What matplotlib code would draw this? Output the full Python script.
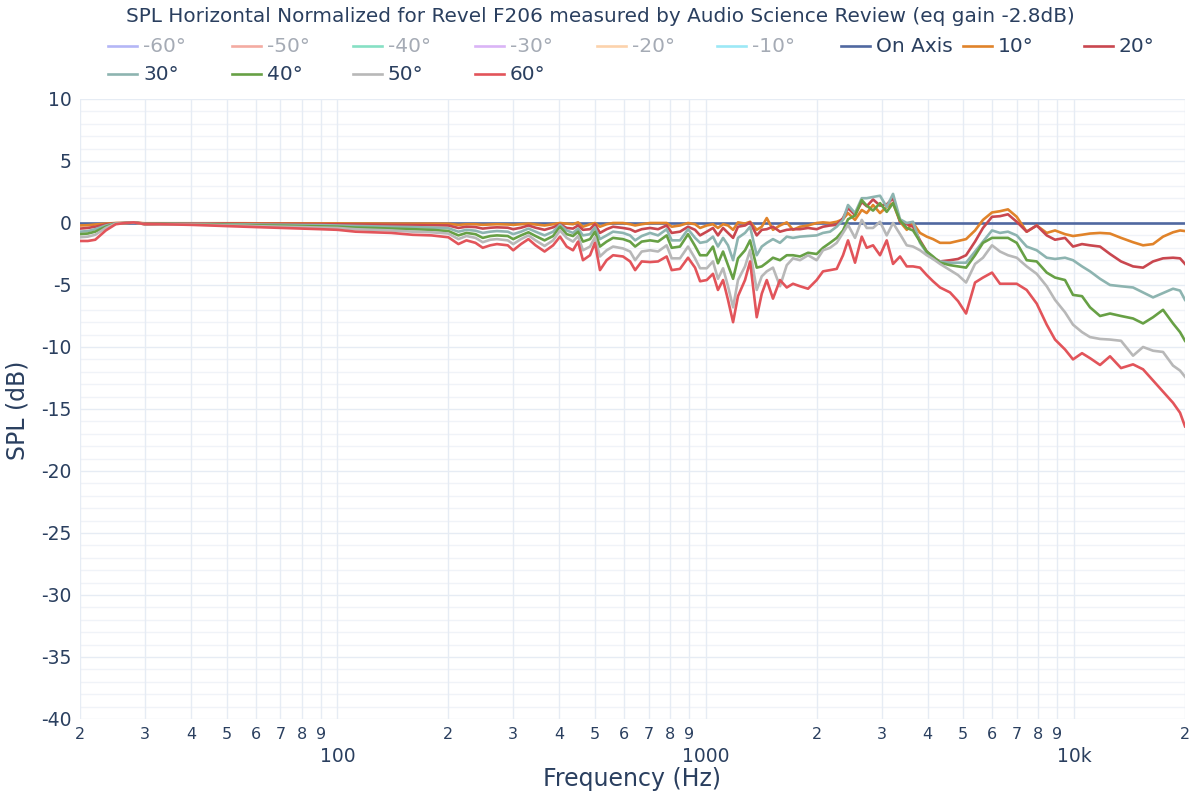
import matplotlib
matplotlib.use("Agg")
import matplotlib.pyplot as plt
from matplotlib.lines import Line2D
from matplotlib.ticker import FixedLocator, FixedFormatter

plt.rcParams['font.family'] = ['DejaVu Sans']
plt.rcParams['axes.unicode_minus'] = False

title = "SPL Horizontal Normalized for Revel F206 measured by Audio Science Review (eq gain -2.8dB)"

freq = [20, 21, 22, 23.5, 25, 26.5, 28, 30, 33, 36, 40, 45, 50, 56, 63, 71, 80, 90, 100, 112,
        125, 140, 160, 180, 200, 213, 224, 237, 248, 260, 271, 290, 300, 315, 330, 345, 365, 385,
        402, 419, 436, 450, 464, 485, 500, 516, 538, 560, 596, 623, 643, 670, 706, 742, 783, 808,
        851, 895, 935, 965, 1006, 1046, 1079, 1114, 1149, 1186, 1223, 1278, 1319, 1375, 1419, 1464,
        1522, 1590, 1659, 1725, 1802, 1895, 2000, 2081, 2174, 2267, 2358, 2433, 2542, 2651, 2735,
        2845, 2972, 3099, 3224, 3368, 3512, 3653, 3816, 3980, 4140, 4325, 4604, 4840, 5089, 5383,
        5657, 5985, 6291, 6613, 6985, 7433, 7915, 8426, 8875, 9447, 9931, 10506, 11045, 11758,
        12516, 13409, 14454, 15386, 16378, 17433, 18558, 19388, 20000]

on_axis = [0.0] * len(freq)

deg10 = [-0.2, -0.18, -0.12, -0.05, 0.0, 0.0, 0.03, -0.02, -0.02, -0.02, -0.02, -0.02, -0.02, -0.02, -0.03, -0.03, -0.03, -0.03, -0.03, -0.04,
         -0.04, -0.05, -0.05, -0.05, -0.06, -0.15, -0.1, -0.1, -0.15, -0.12, -0.1, -0.12, -0.15, -0.1, -0.05, -0.12, -0.2, -0.1,
         0.0, -0.05, -0.1, 0.05, -0.3, -0.1, 0.0, -0.3, -0.1, 0.0,
         0.0, -0.1, -0.2, -0.1, 0.0, 0.0, 0.0, -0.3, -0.2, 0.0,
         -0.1, -0.4, -0.2, -0.1, -0.4, -0.1, -0.2, -0.55, 0.05, -0.05,
         0.1, -0.55, -0.3, 0.4, -0.55, -0.2, 0.05, -0.55, -0.3, -0.2,
         0.0, 0.05, 0.0, 0.1, 0.3, 0.8, 0.25, 1.05, 0.8, 1.45,
         0.8, 1.3, 1.6, 0.1, -0.55, 0.0, -0.8, -1.1, -1.3, -1.6,
         -1.6, -1.45, -1.3, -0.6, 0.25, 0.85, 0.95, 1.1, 0.5, -0.7,
         -0.2, -0.8, -0.6, -0.9, -1.05, -0.95, -0.85, -0.8, -0.85, -1.2,
         -1.55, -1.8, -1.7, -1.1, -0.75, -0.6, -0.65]

deg20 = [-0.45, -0.4, -0.3, -0.12, -0.02, 0.0, 0.05, -0.05, -0.04, -0.04, -0.04, -0.05, -0.05, -0.06, -0.07, -0.07, -0.08, -0.09, -0.1, -0.12,
         -0.13, -0.15, -0.16, -0.18, -0.2, -0.4, -0.3, -0.33, -0.45, -0.38, -0.35, -0.38, -0.5, -0.38, -0.2, -0.38, -0.55, -0.35,
         -0.1, -0.4, -0.45, -0.2, -0.55, -0.5, -0.1, -0.8, -0.5, -0.3,
         -0.4, -0.5, -0.7, -0.5, -0.4, -0.5, -0.2, -0.8, -0.7, -0.3,
         -0.55, -1.0, -0.7, -0.4, -1.0, -0.4, -0.8, -1.2, -0.3, -0.2,
         0.05, -1.0, -0.55, -0.5, -0.3, -0.7, -0.55, -0.5, -0.5, -0.4,
         -0.5, -0.3, -0.2, -0.15, 0.4, 1.2, 0.65, 1.7, 1.35, 1.9,
         1.4, 1.5, 2.0, 0.1, -0.1, -0.3, -1.4, -2.3, -2.8, -3.1,
         -3.0, -2.9, -2.6, -1.5, -0.4, 0.5, 0.55, 0.7, 0.1, -0.7,
         -0.2, -1.0, -1.35, -1.2, -1.9, -1.7, -1.8, -1.9, -2.5, -3.1,
         -3.5, -3.6, -3.1, -2.85, -2.8, -2.85, -3.3]

deg30 = [-0.7, -0.65, -0.5, -0.2, -0.03, 0.0, 0.05, -0.08, -0.07, -0.06, -0.07, -0.08, -0.1, -0.11, -0.13, -0.14, -0.16, -0.17, -0.2, -0.24,
         -0.27, -0.3, -0.33, -0.37, -0.42, -0.7, -0.55, -0.62, -0.8, -0.7, -0.65, -0.7, -0.9, -0.7, -0.45, -0.7, -1.0, -0.7,
         -0.15, -0.6, -0.8, -0.45, -1.0, -0.9, -0.35, -1.3, -1.0, -0.7,
         -0.8, -1.0, -1.4, -1.05, -0.8, -1.0, -0.5, -1.4, -1.4, -0.5,
         -1.2, -1.6, -1.5, -1.1, -1.9, -1.2, -1.8, -3.0, -1.2, -0.8,
         -0.3, -2.6, -1.9, -1.6, -1.3, -1.6, -1.1, -1.2, -1.1, -1.05,
         -1.0, -0.8, -0.7, -0.3, 0.25, 1.45, 0.8, 2.0, 2.0, 2.1,
         2.2, 1.3, 2.35, 0.3, 0.0, 0.1, -1.6, -2.4, -2.9, -3.1,
         -3.2, -3.2, -3.2, -2.3, -1.5, -0.6, -0.8, -0.7, -1.0, -1.9,
         -2.2, -2.8, -2.9, -2.8, -3.0, -3.5, -3.9, -4.5, -5.0, -5.1,
         -5.2, -5.6, -6.0, -5.65, -5.3, -5.45, -6.2]

deg40 = [-0.9, -0.85, -0.7, -0.3, -0.05, 0.0, 0.05, -0.1, -0.08, -0.08, -0.1, -0.12, -0.15, -0.17, -0.2, -0.22, -0.25, -0.27, -0.3, -0.37,
         -0.4, -0.45, -0.5, -0.55, -0.65, -1.0, -0.8, -0.9, -1.2, -1.05, -1.0, -1.05, -1.3, -1.0, -0.75, -1.05, -1.4, -1.05,
         -0.3, -0.9, -1.05, -0.7, -1.5, -1.3, -0.7, -1.9, -1.5, -1.2,
         -1.3, -1.5, -1.9, -1.5, -1.4, -1.5, -1.0, -2.0, -1.9, -0.9,
         -1.85, -2.6, -2.6, -1.9, -3.25, -2.3, -3.4, -4.5, -2.85, -2.2,
         -1.4, -3.6, -3.5, -3.2, -2.8, -3.0, -2.6, -2.6, -2.7, -2.4,
         -2.5, -2.0, -1.6, -1.2, -0.6, 0.3, 0.6, 1.85, 1.4, 1.0,
         1.6, 0.9, 1.6, 0.2, -0.4, -0.6, -1.5, -2.3, -2.7, -3.2,
         -3.4, -3.5, -3.6, -2.6, -1.6, -1.2, -1.2, -1.2, -1.6, -3.0,
         -3.1, -4.0, -4.4, -4.6, -5.8, -5.9, -6.8, -7.5, -7.3, -7.5,
         -7.7, -8.1, -7.6, -7.0, -8.1, -8.8, -9.5]

deg50 = [-1.15, -1.1, -0.95, -0.4, -0.05, 0.0, 0.05, -0.1, -0.1, -0.1, -0.12, -0.15, -0.2, -0.22, -0.27, -0.3, -0.33, -0.37, -0.4, -0.5,
         -0.55, -0.6, -0.7, -0.75, -0.85, -1.3, -1.05, -1.2, -1.55, -1.35, -1.3, -1.4, -1.7, -1.3, -1.0, -1.4, -1.85, -1.4,
         -0.6, -1.2, -1.5, -1.05, -2.2, -1.9, -1.15, -2.7, -2.2, -1.9,
         -2.05, -2.3, -3.0, -2.3, -2.2, -2.3, -1.8, -2.85, -2.85, -1.9,
         -2.85, -3.65, -3.65, -3.1, -4.5, -3.65, -5.1, -6.8, -4.6, -3.5,
         -2.2, -5.4, -4.3, -3.9, -3.6, -5.1, -3.4, -2.85, -3.0, -2.6,
         -3.0, -2.2, -2.0, -1.6, -0.8, -0.15, -1.2, 0.25, -0.4, -0.4,
         0.1, -1.0, 0.0, -0.9, -1.8, -1.9, -2.2, -2.6, -2.9, -3.3,
         -3.8, -4.2, -4.8, -3.3, -2.8, -1.8, -2.3, -2.6, -2.8, -3.5,
         -4.1, -5.1, -6.2, -7.2, -8.2, -8.8, -9.2, -9.35, -9.4, -9.5,
         -10.7, -10.0, -10.3, -10.4, -11.5, -11.9, -12.4]

deg60 = [-1.45, -1.45, -1.35, -0.6, -0.1, 0.0, 0.05, -0.1, -0.1, -0.12, -0.15, -0.2, -0.25, -0.3, -0.35, -0.4, -0.45, -0.5, -0.55, -0.7,
         -0.75, -0.8, -0.95, -1.0, -1.15, -1.7, -1.4, -1.6, -2.0, -1.8, -1.7, -1.8, -2.2, -1.7, -1.3, -1.8, -2.3, -1.8,
         -1.1, -1.9, -2.2, -1.5, -3.0, -2.6, -1.6, -3.8, -3.0, -2.6,
         -2.7, -3.1, -3.8, -3.1, -3.15, -3.1, -2.7, -3.8, -3.7, -2.8,
         -3.6, -4.7, -4.6, -4.1, -5.4, -4.6, -6.2, -8.0, -5.9, -4.6,
         -3.1, -7.6, -5.7, -4.6, -6.1, -4.6, -5.2, -4.9, -5.1, -5.3,
         -4.6, -3.9, -3.8, -3.7, -2.6, -1.4, -3.2, -1.1, -2.0, -1.8,
         -2.6, -1.4, -3.3, -2.7, -3.5, -3.5, -3.6, -4.2, -4.7, -5.2,
         -5.6, -6.3, -7.3, -4.8, -4.4, -4.0, -4.9, -4.9, -4.9, -5.4,
         -6.5, -8.2, -9.4, -10.2, -11.0, -10.5, -10.9, -11.45, -10.75, -11.7,
         -11.4, -11.8, -12.7, -13.6, -14.5, -15.3, -16.4]

visible_names = ["On Axis", "10°", "20°", "30°", "40°", "50°", "60°"]
visible_data = [on_axis, deg10, deg20, deg30, deg40, deg50, deg60]
visible_colors = ["#5068A0", "#E0832A", "#C9474F", "#8DB4B0", "#67A045", "#B8B8B8", "#E2545A"]

hidden_names = ["-60°", "-50°", "-40°", "-30°", "-20°", "-10°"]
hidden_colors = ["#B4B6F6", "#F4ABA2", "#86E0C4", "#DAB4F6", "#FCD2AC", "#9CE8F6"]

y_major = [10, 5, 0, -5, -10, -15, -20, -25, -30, -35, -40]
x_major = [100, 1000, 10000]
x_major_labels = ["100", "1000", "10k"]
x_minor = [20, 30, 40, 50, 60, 70, 80, 90, 200, 300, 400, 500, 600, 700, 800, 900,
           2000, 3000, 4000, 5000, 6000, 7000, 8000, 9000, 20000]
x_minor_labels = ["2", "3", "4", "5", "6", "7", "8", "9", "2", "3", "4", "5", "6", "7", "8", "9",
                  "2", "3", "4", "5", "6", "7", "8", "9", "2"]

TXT = "#2a3f5f"
W, H = 1200, 800
fig = plt.figure(figsize=(12, 8), dpi=100)
ax = fig.add_axes([80 / W, 1 - 719 / H, (1185 - 80) / W, (719 - 99) / H])
ax.set_xscale("log")
ax.set_xlim(20, 20000)
ax.set_ylim(-40, 10)
for s in ax.spines.values():
    s.set_visible(False)

# grid lines
for v in range(-40, 11):
    ax.axhline(v, color="#E6ECF4" if v % 5 == 0 else "#F0F3F8", lw=1.0, zorder=0)
for v in x_major + x_minor:
    ax.axvline(v, color="#E6ECF4", lw=1.0, zorder=0)

for name, data, col in zip(visible_names, visible_data, visible_colors):
    ax.plot(freq, data, color=col, lw=1.9, zorder=2, solid_joinstyle="round")

ax.yaxis.set_major_locator(FixedLocator(y_major))
ax.yaxis.set_major_formatter(FixedFormatter([str(v) for v in y_major]))
ax.yaxis.set_minor_locator(FixedLocator([]))
ax.xaxis.set_major_locator(FixedLocator(x_major))
ax.xaxis.set_major_formatter(FixedFormatter(x_major_labels))
ax.xaxis.set_minor_locator(FixedLocator(x_minor))
ax.xaxis.set_minor_formatter(FixedFormatter(x_minor_labels))
ax.tick_params(axis="y", which="both", length=0, pad=6, labelsize=13.5, labelcolor=TXT)
ax.tick_params(axis="x", which="minor", length=0, pad=6, labelsize=11.5, labelcolor=TXT)
ax.tick_params(axis="x", which="major", length=0, pad=20, labelsize=13.5, labelcolor=TXT)

fig.text(632 / W, 1 - 779 / H, "Frequency (Hz)", ha="center", va="center", fontsize=17, color=TXT)
fig.text(18 / W, 1 - 410 / H, "SPL (dB)", ha="center", va="center", rotation=90, fontsize=17, color=TXT)
fig.text(600 / W, 1 - 17 / H, title, ha="center", va="center", fontsize=14.4, color=TXT)

# legend (plotly style, row-major)
row1 = [(hidden_names[i], hidden_colors[i], True) for i in range(6)] + \
       [(visible_names[i], visible_colors[i], False) for i in range(3)]
row2 = [(visible_names[i], visible_colors[i], False) for i in range(3, 7)]
row1_x = [108, 232, 353, 475, 597, 717, 841, 963, 1084]
row2_x = [108, 232, 353, 475]
for items, xs, yy in [(row1, row1_x, 46), (row2, row2_x, 74)]:
    for (name, col, hidden), x0 in zip(items, xs):
        yf = 1 - yy / H
        fig.add_artist(Line2D([x0 / W, (x0 + 29) / W], [yf, yf], color=col, lw=1.9,
                              transform=fig.transFigure))
        fig.text((x0 + 35) / W, yf, name, ha="left", va="center", fontsize=14.5,
                 color="#A5ABB5" if hidden else TXT)

fig.savefig("out.png", dpi=100, facecolor="white")
